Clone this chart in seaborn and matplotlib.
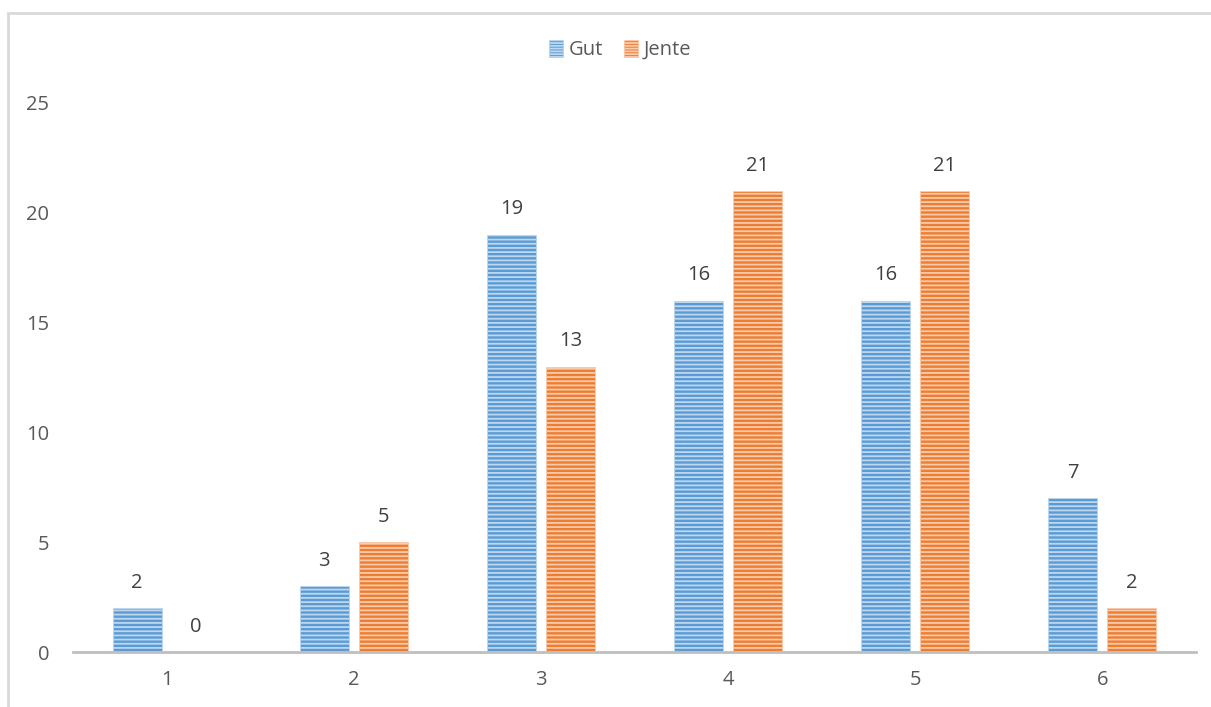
import numpy as np
import pandas as pd
import matplotlib.pyplot as plt
import seaborn as sns
from matplotlib.patches import Rectangle

# data
kategorier = ['1', '2', '3', '4', '5', '6']
gut = [2, 3, 19, 16, 16, 7]
jente = [0, 5, 13, 21, 21, 2]
serier = ['Gut', 'Jente']
farger = ['#5B9BD5', '#ED7D31']
kant = ['#BDD7EE', '#F8CBAD']

df = pd.DataFrame({
    'Kategori': kategorier * 2,
    'Antall': gut + jente,
    'Gruppe': ['Gut'] * len(gut) + ['Jente'] * len(jente),
})

sns.set_theme(style='white')
plt.rcParams['font.family'] = ['Open Sans', 'DejaVu Sans']
plt.rcParams['hatch.linewidth'] = 1.3

fig = plt.figure(figsize=(12.11, 7.07), dpi=100)
ax = fig.add_axes([73 / 1211, 55 / 707, 1123 / 1211, 549 / 707])

sns.barplot(data=df, x='Kategori', y='Antall', hue='Gruppe', order=kategorier,
            hue_order=serier, palette=farger, saturation=1, width=0.63, gap=0.17,
            ax=ax)

# horisontale striper
for cont, ec in zip(ax.containers, kant):
    for bar in cont:
        bar.set_hatch('----')
        bar.set_edgecolor(ec)
        bar.set_linewidth(0.6)
    ax.bar_label(cont, fmt='%d', padding=11, fontsize=14.5, color='#404040')

ax.set_ylim(0, 25)
ax.set_yticks([0, 5, 10, 15, 20, 25])
ax.set_xlabel('')
ax.set_ylabel('')
ax.tick_params(axis='y', length=0, pad=17, labelsize=14.5, labelcolor='#595959')
ax.tick_params(axis='x', length=0, pad=13, labelsize=14.5, labelcolor='#595959')
for s in ['left', 'right', 'top']:
    ax.spines[s].set_visible(False)
ax.spines['bottom'].set_color('#BFBFBF')
ax.spines['bottom'].set_linewidth(2)

leg = ax.legend(loc='center', bbox_to_anchor=(620 / 1211, 1 - 50 / 707),
                bbox_transform=fig.transFigure, ncol=2, frameon=False,
                fontsize=14.5, handlelength=0.7, handleheight=0.9,
                handletextpad=0.3, columnspacing=1.0)
for t in leg.get_texts():
    t.set_color('#595959')
for h, ec in zip(leg.legend_handles, kant):
    h.set_hatch('------')
    h.set_edgecolor(ec)
    h.set_linewidth(0.4)

# ramme rundt diagrammet
fig.patches.append(Rectangle((8 / 1211, -0.1), 1.2, (707 - 13) / 707 + 0.1,
                             transform=fig.transFigure, fill=False,
                             edgecolor='#D9D9D9', linewidth=2, zorder=0))

fig.savefig('out.png', dpi=100)
